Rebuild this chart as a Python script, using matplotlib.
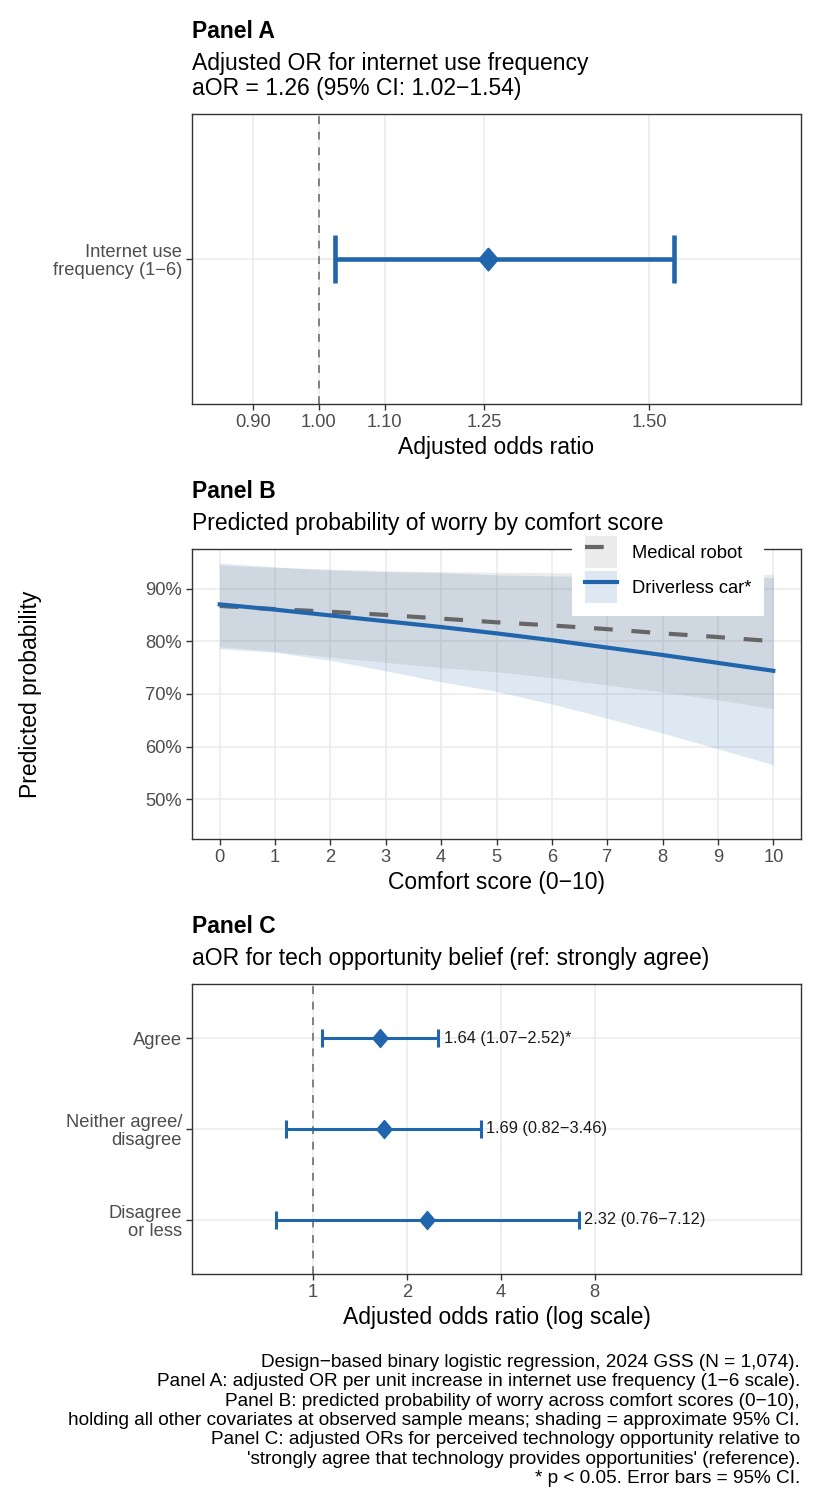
import numpy as np
import matplotlib
matplotlib.use("Agg")
import matplotlib.pyplot as plt
from matplotlib.lines import Line2D
from matplotlib.patches import Patch
from matplotlib.ticker import FixedLocator, FuncFormatter, NullLocator

plt.rcParams['font.family'] = ['Liberation Sans', 'DejaVu Sans']

# ---- data ----
# Panel A: internet use frequency
a_label = "Internet use\nfrequency (1\u22126)"
a_or = 1.256
a_lo = 1.024
a_hi = 1.538
a_ticks = [0.90, 1.00, 1.10, 1.25, 1.50]

# Panel B: predicted probabilities over comfort score
comfort = [0, 1, 2, 3, 4, 5, 6, 7, 8, 9, 10]
robot_p = [0.867, 0.861, 0.856, 0.850, 0.843, 0.836, 0.830, 0.823, 0.815, 0.808, 0.800]
robot_lo = [0.790, 0.781, 0.770, 0.760, 0.750, 0.742, 0.731, 0.717, 0.704, 0.689, 0.672]
robot_hi = [0.944, 0.940, 0.937, 0.934, 0.932, 0.931, 0.930, 0.929, 0.928, 0.927, 0.927]
car_p = [0.870, 0.860, 0.849, 0.838, 0.827, 0.815, 0.802, 0.788, 0.774, 0.759, 0.744]
car_lo = [0.786, 0.779, 0.764, 0.744, 0.723, 0.705, 0.681, 0.654, 0.626, 0.596, 0.566]
car_hi = [0.948, 0.941, 0.935, 0.932, 0.930, 0.926, 0.924, 0.923, 0.922, 0.921, 0.921]
b_yticks = [0.5, 0.6, 0.7, 0.8, 0.9]

# Panel C: tech opportunity belief
c_labels = ["Agree", "Neither agree/\ndisagree", "Disagree\nor less"]
c_or = [1.64, 1.69, 2.32]
c_lo = [1.07, 0.82, 0.76]
c_hi = [2.52, 3.46, 7.12]
c_sig = ["*", "", ""]
c_ticks = [1, 2, 4, 8]

caption_lines = [
    "Design\u2212based binary logistic regression, 2024 GSS (N = 1,074).",
    "Panel A: adjusted OR per unit increase in internet use frequency (1\u22126 scale).",
    "Panel B: predicted probability of worry across comfort scores (0\u221210),",
    "holding all other covariates at observed sample means; shading = approximate 95% CI.",
    "Panel C: adjusted ORs for perceived technology opportunity relative to",
    "'strongly agree that technology provides opportunities' (reference).",
    "* p < 0.05. Error bars = 95% CI.",
]

# ---- style ----
BLUE = "#2166ac"
GREY_LINE = "#666666"
GRID = "#ebebeb"
BORDER = "#333333"
TICKCOL = "#4d4d4d"
BASE = 16.5
TICK = 13.2

W, H = 825, 1500
fig = plt.figure(figsize=(W / 100, H / 100), dpi=100)


def rect(l, t, r, b):
    return [l / W, 1 - b / H, (r - l) / W, (b - t) / H]


def ftext(x, y, s, **kw):
    fig.text(x / W, 1 - y / H, s, **kw)


def style(ax):
    for sp in ax.spines.values():
        sp.set_color(BORDER)
        sp.set_linewidth(1.0)
    ax.tick_params(colors=BORDER, labelcolor=TICKCOL, labelsize=TICK,
                   length=4.1, width=1.0, pad=3.0)
    ax.grid(True, color=GRID, lw=1.1)
    ax.set_axisbelow(True)


def diamond_marker(w=0.85):
    return [(0, 1), (w, 0), (0, -1), (-w, 0), (0, 1)]


# ---- Panel A ----
axA = fig.add_axes(rect(192, 114, 801, 404))
style(axA)
axA.set_xlim(0.808, 1.730)
axA.set_ylim(0.4, 1.6)
axA.xaxis.set_major_locator(FixedLocator(a_ticks))
axA.xaxis.set_major_formatter(FuncFormatter(lambda v, p: f"{v:.2f}"))
axA.set_yticks([1])
axA.set_yticklabels([a_label], ha="right", linespacing=1.1)
axA.axvline(1.0, color="#808080", lw=1.4, ls=(0, (4, 4)), zorder=1)
axA.errorbar([a_or], [1], xerr=[[a_or - a_lo], [a_hi - a_or]], fmt="none",
             ecolor=BLUE, elinewidth=3.3, capsize=0, zorder=2)
axA.vlines([a_lo, a_hi], 0.9, 1.1, color=BLUE, lw=3.3, zorder=2)
axA.plot([a_or], [1], marker=diamond_marker(), ms=16.5, color=BLUE, zorder=3)
axA.set_xlabel("Adjusted odds ratio", fontsize=BASE, labelpad=4)

ftext(192, 38, "Panel A", fontsize=BASE, fontweight="bold", va="baseline")
ftext(192, 70, "Adjusted OR for internet use frequency", fontsize=BASE, va="baseline")
ftext(192, 95, "aOR = 1.26 (95% CI: 1.02\u22121.54)", fontsize=BASE, va="baseline")

# ---- Panel B ----
axB = fig.add_axes(rect(192, 549, 801, 839))
style(axB)
axB.set_xlim(-0.5, 10.5)
axB.set_ylim(0.425, 0.975)
axB.set_xticks(comfort)
axB.yaxis.set_major_locator(FixedLocator(b_yticks))
axB.yaxis.set_major_formatter(FuncFormatter(lambda v, p: f"{v * 100:.0f}%"))
axB.fill_between(comfort, car_lo, car_hi, color=BLUE, alpha=0.15, lw=0, zorder=1)
axB.fill_between(comfort, robot_lo, robot_hi, color="#7f7f7f", alpha=0.15, lw=0, zorder=1)
axB.plot(comfort, robot_p, color=GREY_LINE, lw=3.0, dashes=(4.5, 4.5), zorder=2)
axB.plot(comfort, car_p, color=BLUE, lw=3.0, zorder=3)
axB.set_xlabel("Comfort score (0\u221210)", fontsize=BASE, labelpad=4)

handles = [
    (Patch(fc="#ececec", ec="none"), Line2D([], [], color=GREY_LINE, lw=3.0, dashes=(4.5, 4.5))),
    (Patch(fc="#dee8f2", ec="none"), Line2D([], [], color=BLUE, lw=3.0)),
]
leg = axB.legend(handles, ["Medical robot", "Driverless car*"], fontsize=TICK,
                 loc="upper right", bbox_to_anchor=(764 / W, 1 - 523 / H),
                 bbox_transform=fig.transFigure, frameon=True, fancybox=False,
                 framealpha=1, facecolor="white", edgecolor="none",
                 handlelength=1.75, handleheight=2.3, labelspacing=0.19,
                 handletextpad=0.77, borderpad=0.71, borderaxespad=0)
leg.set_zorder(5)

ftext(192, 498, "Panel B", fontsize=BASE, fontweight="bold", va="baseline")
ftext(192, 530, "Predicted probability of worry by comfort score", fontsize=BASE, va="baseline")
ftext(31, 694, "Predicted probability", fontsize=BASE, rotation=90, ha="center", va="center")

# ---- Panel C ----
axC = fig.add_axes(rect(192, 984, 801, 1274))
style(axC)
axC.set_xscale("log", base=2)
axC.set_xlim(0.409, 36.7)
axC.xaxis.set_major_locator(FixedLocator(c_ticks))
axC.xaxis.set_minor_locator(NullLocator())
axC.xaxis.set_major_formatter(FuncFormatter(lambda v, p: f"{v:g}"))
ypos = [3, 2, 1]
axC.set_ylim(0.4, 3.6)
axC.set_yticks(ypos)
axC.set_yticklabels(c_labels, ha="right", linespacing=1.1)
axC.axvline(1.0, color="#808080", lw=1.4, ls=(0, (4, 4)), zorder=1)
for y, o, lo, hi, s in zip(ypos, c_or, c_lo, c_hi, c_sig):
    axC.hlines(y, lo, hi, color=BLUE, lw=2.2, zorder=2)
    axC.vlines([lo, hi], y - 0.1, y + 0.1, color=BLUE, lw=2.2, zorder=2)
    axC.plot([o], [y], marker=diamond_marker(), ms=13, color=BLUE, zorder=3)
    axC.text(hi * 1.04, y, f"{o:.2f} ({lo:.2f}\u2212{hi:.2f}){s}", fontsize=11.8,
             ha="left", va="center", color="#1a1a1a", zorder=4)
axC.set_xlabel("Adjusted odds ratio (log scale)", fontsize=BASE, labelpad=4)

ftext(192, 933, "Panel C", fontsize=BASE, fontweight="bold", va="baseline")
ftext(192, 965, "aOR for tech opportunity belief (ref: strongly agree)", fontsize=BASE, va="baseline")

# ---- caption ----
for i, line in enumerate(caption_lines):
    ftext(800, 1367 + i * 19.33, line, fontsize=13.7, ha="right", va="baseline")

fig.savefig("out.png", dpi=100)
